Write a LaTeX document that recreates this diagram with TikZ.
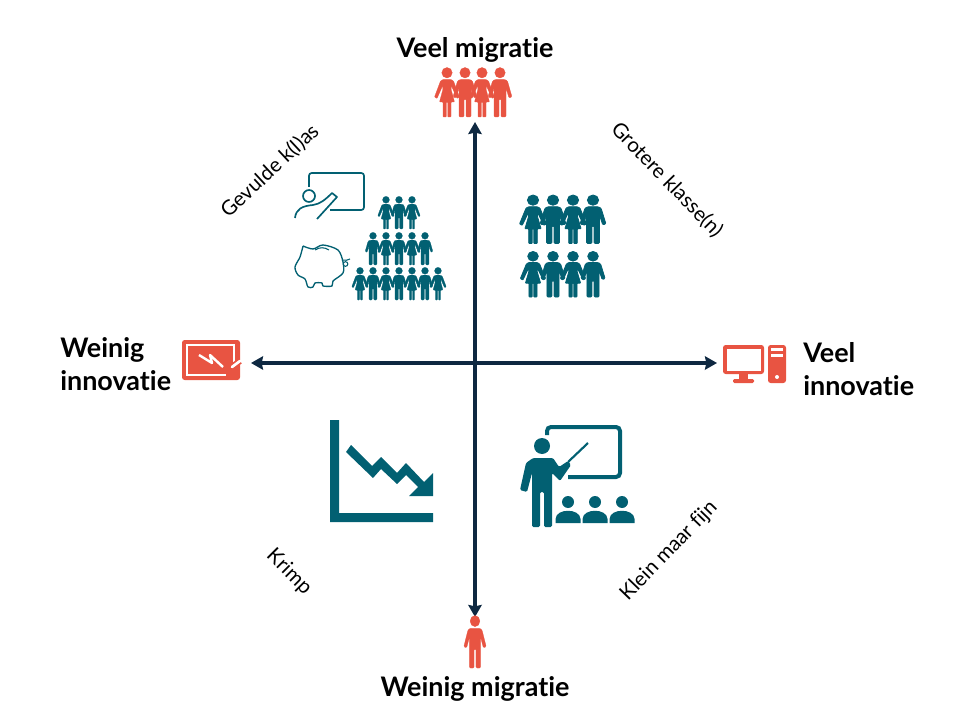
\documentclass[tikz,border=0pt]{standalone}
\usepackage{fontspec}
\setmainfont[Ligatures=NoCommon]{Lato}
\usetikzlibrary{arrows.meta}
\newlength{\du}
\setlength{\du}{0.75pt}
\definecolor{iconteal}{RGB}{2,96,114}
\definecolor{iconred}{RGB}{232,84,66}
\definecolor{axisnavy}{RGB}{14,40,65}
\tikzset{
  axisline/.style={axisnavy,line width=2.4pt,{Stealth[length=9pt,width=10pt,inset=1pt]}-{Stealth[length=9pt,width=10pt,inset=1pt]}},
  headlabel/.style={font=\fontsize{20.2}{25}\selectfont\bfseries,align=left,inner sep=0pt},
  sidelabel/.style={font=\fontsize{15.4}{18}\selectfont,inner sep=0pt},
  manfig/.pic={
    \filldraw (0,11.5) circle [radius=10.5];
    \filldraw[rounded corners=0.8pt] (-10,25)--(10,25)--(15,28)--(24,60)--(18,62)--(12,42)--(12,100)--(2,100)--(2,64)--(-2,64)--(-2,100)--(-12,100)--(-12,42)--(-18,62)--(-24,60)--(-15,28)--cycle;
  },
  womanfig/.pic={
    \filldraw (0,11.5) circle [radius=10.5];
    \filldraw[rounded corners=0.5pt] (-8,25)--(8,25)--(13,28)--(25,60)--(20,63)--(9,38)--(8,44)--(15,70)--(8,70)--(8,100)--(1.5,100)--(1.5,70)--(-1.5,70)--(-1.5,100)--(-8,100)--(-8,70)--(-15,70)--(-8,44)--(-9,38)--(-20,63)--(-25,60)--(-13,28)--cycle;
  },
}

\begin{document}
\begin{tikzpicture}[x=\du,y=-\du]
  \useasboundingbox (0,0) rectangle (960,720);
  % axes
  \coordinate (migtop) at (475,122);
  \coordinate (migbot) at (475,617);
  \coordinate (innleft) at (251,363);
  \coordinate (innright) at (717,363);
  \draw[axisline] (migbot)--(migtop);
  \draw[axisline] (innleft)--(innright);
  % head labels
  \node[headlabel] (veelmig) at (475,49.5) {Veel migratie};
  \node[headlabel] (weinigmig) at (475,688.5) {Weinig migratie};
  \node[headlabel,anchor=west] (weiniginn) at (60,364) {Weinig\\innovatie};
  \node[headlabel,anchor=west] (veelinn) at (803,369) {Veel\\innovatie};
  % side labels
  \node[sidelabel,rotate=43] (gevuld) at (270,171) {Gevulde k(l)as};
  \node[sidelabel,rotate=-46] (groter) at (667,180) {Grotere klasse(n)};
  \node[sidelabel,rotate=-45] (krimp) at (289,572) {Krimp};
  \node[sidelabel,rotate=46] (klein) at (669,551) {Klein maar fijn};
  % red people
  \begin{scope}[iconred,line width=0.2pt]
    \pic[scale=0.5] at (447,67) {womanfig};
    \pic[scale=0.5] at (465,67) {manfig};
    \pic[scale=0.5] at (482,67) {womanfig};
    \pic[scale=0.5] at (500,67) {manfig};
    \pic[scale=0.53,xscale=0.88] at (475,615) {manfig};
  \end{scope}
  % teal people, top right
  \begin{scope}[iconteal,line width=0.6pt]
    \foreach \y/\s in {194.5/0.49,251/0.46} {
      \pic[scale=\s,xscale=1.1] at (533,\y) {womanfig};
      \pic[scale=\s,xscale=1.1] at (553,\y) {manfig};
      \pic[scale=\s,xscale=1.1] at (573,\y) {womanfig};
      \pic[scale=\s,xscale=1.1] at (593,\y) {manfig};
    }
  \end{scope}
  % pyramid
  \begin{scope}[iconteal,line width=0.15pt]
    \foreach \x in {386,412} \pic[scale=0.33] at (\x,196) {womanfig};
    \pic[scale=0.33] at (399,196) {manfig};
    \foreach \x in {373,399,425} \pic[scale=0.33] at (\x,232) {manfig};
    \foreach \x in {386,412} \pic[scale=0.33] at (\x,232) {womanfig};
    \foreach \x in {360,386,412,438} \pic[scale=0.33] at (\x,267) {womanfig};
    \foreach \x in {373,399,425} \pic[scale=0.33] at (\x,267) {manfig};
  \end{scope}
  % outline teacher
  \draw[iconteal,line width=1.25pt,rounded corners=2pt] (309,187)--(309,173)--(364,173)--(364,210)--(330,210);
  \draw[iconteal,line width=1.25pt] (309,196) circle [radius=6];
  \draw[iconteal,line width=1.25pt,line join=round] (295,218) .. controls (296,209) and (302,206) .. (313,205) .. controls (320,204) and (325,200) .. (332,193) -- (337,197) -- (317,219);
  % piggy bank
  \draw[iconteal,line width=1pt,line join=round] plot[smooth,tension=0.5] coordinates {(303,246) (313,249) (323,245) (338,250) (343,262) (343,273) (333,281) (332,286) (323,286) (322,283) (315,283) (313,287) (308,287) (305,279) (298,275) (295,267) (300,257) (303,246)};
  \draw[iconteal,line width=0.8pt] (315,250) .. controls (320,247) and (324,247) .. (329,250);
  \draw[iconteal,line width=0.8pt] (342,260) .. controls (345,261) and (348,260) .. (350,259);
  \draw[iconteal,line width=0.8pt] (345.5,264) circle [radius=2.3];
  % declining chart
  \fill[iconteal] (330,420)--(339,420)--(339,513)--(433,513)--(433,522)--(330,522)--cycle;
  \fill[iconteal] (351,445)--(372,466)--(381,457)--(397,473)--(406,463)--(424,482)--(433,473)--(433,496)--(409,496)--(418,487)--(406,475)--(397,484)--(381,469)--(373,478)--(346,452)--cycle;
  % teacher with board
  \draw[iconteal,line width=3pt,rounded corners=3pt] (547,435)--(547,427)--(620,427)--(620,477)--(568,477);
  \fill[iconteal] (542,446) circle [radius=8];
  \fill[iconteal,rounded corners=1pt] (553,458)--(559,467)--(568,461)--(571,465)--(560,481)--(552,473)--(552,527)--(544,527)--(544,492)--(540,492)--(540,527)--(532,527)--(532,473)--(527,492)--(520,490)--(526,463)--(533,458)--cycle;
  \draw[iconteal,line width=1.6pt] (568,462)--(588,443);
  \foreach \x in {568,595,622} {
    \fill[iconteal] (\x,502) circle [radius=6];
    \fill[iconteal] (\x-12.5,523)--(\x-12.5,519) .. controls (\x-12,508) and (\x+12,508) .. (\x+12.5,519)--(\x+12.5,523)--cycle;
  }
  % board with pen
  \fill[iconred,rounded corners=2pt] (182,340) rectangle (240,380);
  \draw[white,line width=1.4pt] (234,362)--(234,345)--(187,345)--(187,375)--(226,375);
  \draw[white,line width=1.8pt,line join=round] (199,355)--(212,363)--(210,355)--(223,367);
  \draw[iconred,line width=4.5pt] (229,369)--(240,361);
  \draw[white,line width=2pt,line cap=round] (232,367)--(240,361);
  % computer
  \fill[iconred,rounded corners=2pt] (723,345) rectangle (764,374);
  \fill[white] (727,349) rectangle (761,371);
  \fill[iconred] (739,374) rectangle (748,380);
  \fill[iconred,rounded corners=1pt] (733,379) rectangle (754,383);
  \fill[iconred,rounded corners=2pt] (768,345) rectangle (786,383);
  \fill[white] (771,348) rectangle (783,351);
  \fill[white] (771,354) rectangle (783,357);
  \fill[white] (777,377) circle [radius=2];
\end{tikzpicture}
\end{document}
